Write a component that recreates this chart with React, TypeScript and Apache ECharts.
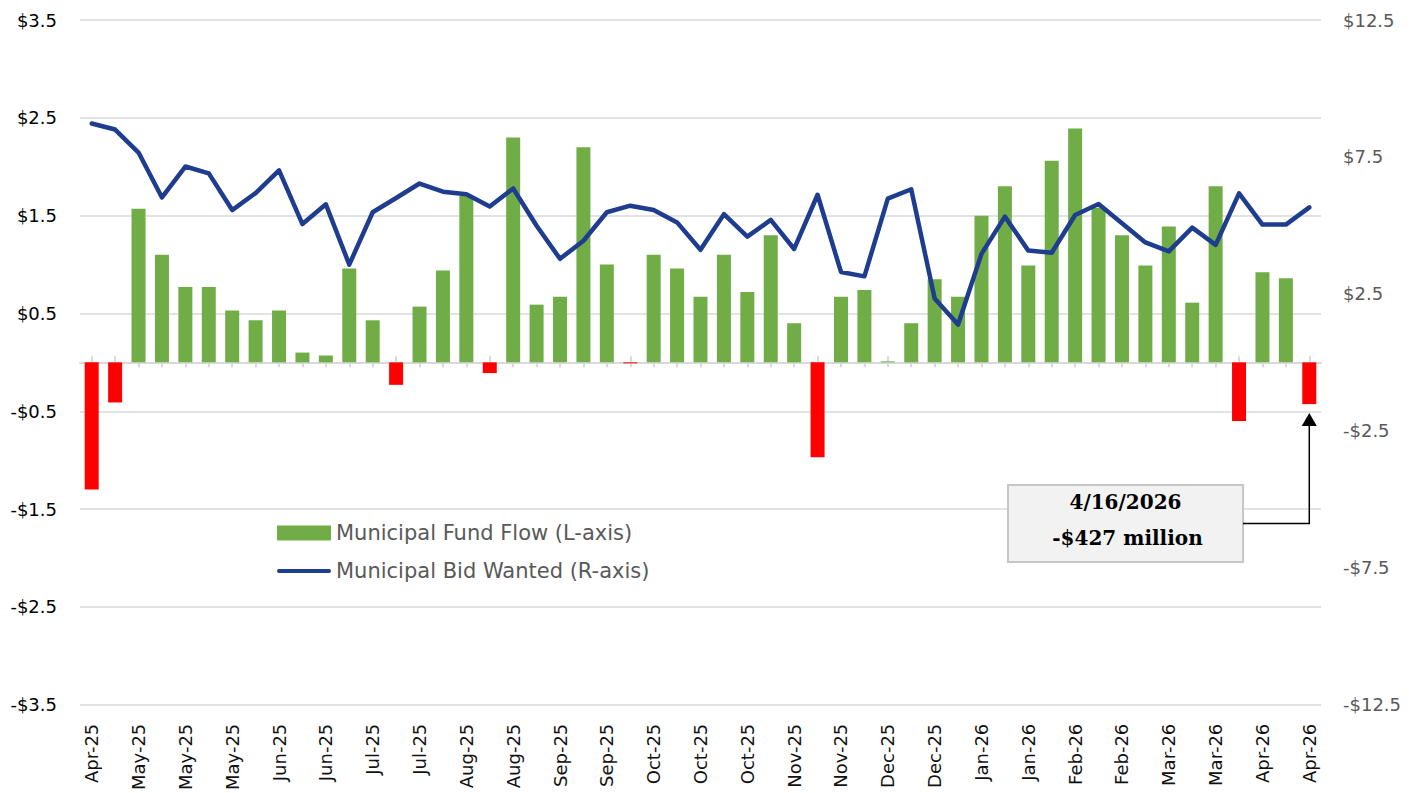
import React, { useEffect, useRef } from "react";
import * as echarts from "echarts";

const weekLabels = [
  "Apr-25", "Apr-25", "May-25", "May-25", "May-25", "May-25", "May-25",
  "Jun-25", "Jun-25", "Jun-25", "Jun-25",
  "Jul-25", "Jul-25", "Jul-25", "Jul-25", "Jul-25",
  "Aug-25", "Aug-25", "Aug-25", "Aug-25",
  "Sep-25", "Sep-25", "Sep-25", "Sep-25",
  "Oct-25", "Oct-25", "Oct-25", "Oct-25", "Oct-25",
  "Nov-25", "Nov-25", "Nov-25", "Nov-25",
  "Dec-25", "Dec-25", "Dec-25", "Dec-25",
  "Jan-26", "Jan-26", "Jan-26", "Jan-26", "Jan-26",
  "Feb-26", "Feb-26", "Feb-26", "Feb-26",
  "Mar-26", "Mar-26", "Mar-26", "Mar-26",
  "Apr-26", "Apr-26", "Apr-26",
];

// Municipal fund flow, $ billions (left axis)
const fundFlow = [
  -1.3, -0.41, 1.57, 1.1, 0.77, 0.77, 0.53, 0.43, 0.53, 0.1,
  0.07, 0.96, 0.43, -0.23, 0.57, 0.94, 1.7, -0.11, 2.3, 0.59,
  0.67, 2.2, 1.0, -0.01, 1.1, 0.96, 0.67, 1.1, 0.72, 1.3,
  0.4, -0.97, 0.67, 0.74, 0.01, 0.4, 0.85, 0.67, 1.5, 1.8,
  0.99, 2.06, 2.39, 1.58, 1.3, 0.99, 1.39, 0.61, 1.8, -0.6,
  0.92, 0.86, -0.427,
];

// Municipal bid wanted, $ billions (right axis)
const bidWanted = [
  8.72, 8.5, 7.66, 6.02, 7.15, 6.9, 5.56, 6.18, 7.01, 5.05,
  5.77, 3.57, 5.48, 6.0, 6.53, 6.23, 6.14, 5.69, 6.35, 4.99,
  3.78, 4.44, 5.48, 5.72, 5.56, 5.11, 4.11, 5.41, 4.59, 5.2,
  4.14, 6.12, 3.3, 3.14, 5.98, 6.32, 2.33, 1.38, 3.96, 5.32,
  4.08, 4.0, 5.38, 5.78, 5.08, 4.38, 4.05, 4.92, 4.29, 6.17,
  5.03, 5.03, 5.66,
];

const seriesNames = ["Municipal Fund Flow (L-axis)", "Municipal Bid Wanted (R-axis)"];
const annotationLines = ["4/16/2026", "-$427 million"];
const annotatedIndex = 52;

const GREEN = "#70ad47";
const RED = "#ff0000";
const BLUE = "#1f3d8f";
const GRID = "#d9d9d9";
const FONT = "DejaVu Sans";
const SERIF = "DejaVu Serif";

function money(v: number): string {
  const s = Math.abs(v).toFixed(1);
  return v < -1e-9 ? `-$${s}` : `$${s}`;
}

export default function App() {
  const ref = useRef<HTMLDivElement>(null);

  useEffect(() => {
    if (!ref.current) return;
    const chart = echarts.init(ref.current, null, { renderer: "svg" });

    const catBase = { type: "category", data: weekLabels, boundaryGap: true, gridIndex: 0 };

    chart.setOption({
      animation: false,
      backgroundColor: "#ffffff",
      grid: { left: 80, right: 102, top: 20, bottom: 87, containLabel: false },
      legend: {
        orient: "vertical",
        left: 277,
        top: 521,
        padding: 0,
        itemWidth: 54,
        itemHeight: 15,
        itemGap: 14,
        textStyle: { fontFamily: FONT, fontSize: 21, color: "#595959", lineHeight: 24 },
        data: [
          { name: seriesNames[0], icon: "rect" },
          { name: seriesNames[1], icon: "path://M2,0 L52,0 A2,2 0 0 1 52,4 L2,4 A2,2 0 0 1 2,0 Z" },
        ],
      },
      xAxis: [
        {
          ...catBase,
          position: "bottom",
          axisLine: { show: false, onZero: false },
          axisTick: { show: false },
          splitLine: { show: false },
          axisLabel: {
            interval: 1,
            rotate: 90,
            margin: 19,
            color: "#111111",
            fontFamily: FONT,
            fontSize: 18,
          },
        },
        {
          ...catBase,
          position: "bottom",
          axisLine: { show: true, onZero: true, onZeroAxisIndex: 0, lineStyle: { color: GRID, width: 2 } },
          axisTick: { show: true, interval: 0, alignWithLabel: true, inside: false, length: 5, lineStyle: { color: GRID, width: 2 } },
          axisLabel: { show: false },
          splitLine: { show: false },
        },
        {
          ...catBase,
          position: "top",
          axisLine: { show: false, onZero: true, onZeroAxisIndex: 0 },
          axisTick: { show: true, interval: 0, alignWithLabel: true, inside: false, length: 6, lineStyle: { color: GRID, width: 2 } },
          axisLabel: { show: false },
          splitLine: { show: false },
        },
      ],
      yAxis: [
        {
          type: "value",
          position: "left",
          min: -3.5,
          max: 3.5,
          interval: 1,
          axisLine: { show: false },
          axisTick: { show: false },
          splitLine: { show: true, lineStyle: { color: GRID, width: 1.5 } },
          axisLabel: { formatter: money, color: "#000000", fontFamily: FONT, fontSize: 18, margin: 23 },
        },
        {
          type: "value",
          position: "right",
          min: -12.5,
          max: 12.5,
          interval: 5,
          axisLine: { show: false },
          axisTick: { show: false },
          splitLine: { show: false },
          axisLabel: { formatter: money, color: "#595959", fontFamily: FONT, fontSize: 18, margin: 22 },
        },
      ],
      series: [
        {
          name: seriesNames[0],
          type: "bar",
          xAxisIndex: 0,
          yAxisIndex: 0,
          barWidth: 14,
          itemStyle: { color: GREEN },
          data: fundFlow.map((v) => (v < 0 ? { value: v, itemStyle: { color: RED } } : { value: v })),
          z: 2,
        },
        {
          name: seriesNames[1],
          type: "line",
          xAxisIndex: 0,
          yAxisIndex: 1,
          data: bidWanted,
          showSymbol: false,
          symbol: "none",
          lineStyle: { color: BLUE, width: 4.5, cap: "round", join: "round" },
          itemStyle: { color: BLUE },
          z: 3,
        },
      ],
    });

    const p = chart.convertToPixel({ seriesIndex: 0 }, [annotatedIndex, fundFlow[annotatedIndex]]) as number[];
    const bx = p[0];
    const by = p[1];
    const boxX = 1008;
    const boxY = 485;
    const boxW = 235;
    const boxH = 77;
    const arrowY = 523.5;

    chart.setOption({
      graphic: [
        {
          type: "rect",
          shape: { x: boxX, y: boxY, width: boxW, height: boxH },
          style: { fill: "#f2f2f2", stroke: "#c6c6c6", lineWidth: 2 },
          z: 10,
        },
        {
          type: "text",
          x: boxX + boxW / 2,
          y: 502,
          style: {
            text: annotationLines[0],
            fontFamily: SERIF,
            fontWeight: "bold",
            fontSize: 20,
            fill: "#000000",
            align: "center",
            verticalAlign: "middle",
          },
          z: 11,
        },
        {
          type: "text",
          x: boxX + boxW / 2 + 2,
          y: 538,
          style: {
            text: annotationLines[1],
            fontFamily: SERIF,
            fontWeight: "bold",
            fontSize: 20,
            fill: "#000000",
            align: "center",
            verticalAlign: "middle",
          },
          z: 11,
        },
        {
          type: "polyline",
          shape: { points: [[boxX + boxW, arrowY], [bx, arrowY], [bx, by + 21]] },
          style: { stroke: "#000000", lineWidth: 1.5, fill: null },
          z: 10,
        },
        {
          type: "polygon",
          shape: { points: [[bx, by + 9], [bx - 7.5, by + 22], [bx + 7.5, by + 22]] },
          style: { fill: "#000000" },
          z: 10,
        },
      ],
    });

    return () => {
      chart.dispose();
    };
  }, []);

  return (
    <div
      ref={ref}
      style={{ position: "absolute", left: 0, top: 0, width: 1423, height: 793 }}
    />
  );
}
